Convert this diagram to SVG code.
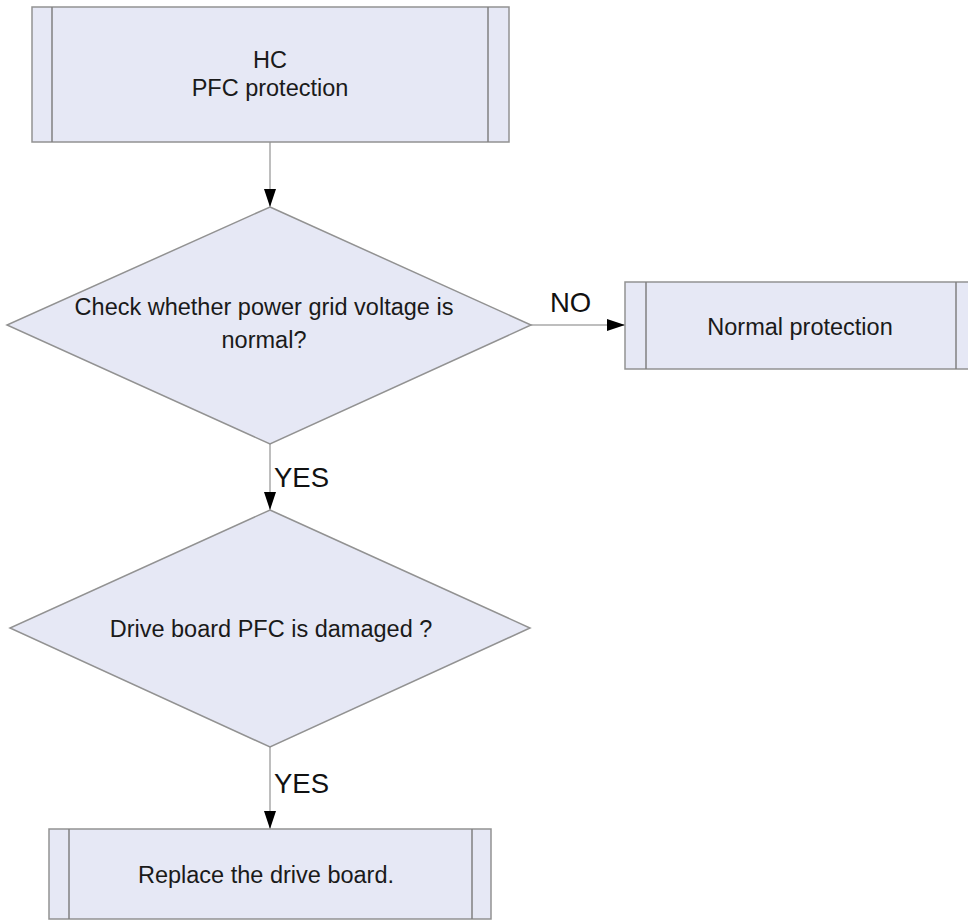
<svg xmlns="http://www.w3.org/2000/svg" width="968" height="920" viewBox="0 0 968 920">
<defs>
<style>
.shape{fill:#e6e8f5;stroke:#929292;stroke-width:1.5}
.inner{stroke:#808080;stroke-width:1.5;fill:none}
.t{font-family:"Liberation Sans",Arial,sans-serif;font-size:23.5px;fill:#1a1a1a;text-anchor:middle}
.lbl{font-family:"Liberation Sans",Arial,sans-serif;font-size:27.5px;fill:#111}
.c{stroke:#a8a8a8;stroke-width:1.5;fill:none}
</style>
<marker id="ah" viewBox="0 0 18 12" refX="18" refY="6" markerWidth="18" markerHeight="12" markerUnits="userSpaceOnUse" orient="auto">
<path d="M0,0 L18,6 L0,12 Z" fill="#000"/>
</marker>
</defs>
<rect width="968" height="920" fill="#fff"/>
<g id="connectors">
<line class="c" x1="270" y1="142" x2="270" y2="207" marker-end="url(#ah)"/>
<line class="c" x1="531" y1="325" x2="625" y2="325" marker-end="url(#ah)"/>
<text class="lbl" x="550" y="312">NO</text>
<line class="c" x1="270" y1="444" x2="270" y2="510" marker-end="url(#ah)"/>
<text class="lbl" x="274" y="487">YES</text>
<line class="c" x1="270" y1="747" x2="270" y2="829" marker-end="url(#ah)"/>
<text class="lbl" x="274" y="793">YES</text>
</g>
<g id="start">
<rect class="shape" x="32" y="7" width="477" height="135"/>
<line class="inner" x1="52" y1="7" x2="52" y2="142"/>
<line class="inner" x1="488" y1="7" x2="488" y2="142"/>
<text class="t" x="270" y="68">HC</text>
<text class="t" x="270" y="96">PFC protection</text>
</g>
<g id="check-voltage">
<polygon class="shape" points="270,207 531,325 270,444 7,325"/>
<text class="t" x="264" y="315">Check whether power grid voltage is</text>
<text class="t" x="264" y="348">normal?</text>
</g>
<g id="normal-protection">
<rect class="shape" x="625" y="282" width="352" height="87"/>
<line class="inner" x1="646" y1="282" x2="646" y2="369"/>
<line class="inner" x1="956" y1="282" x2="956" y2="369"/>
<text class="t" x="800" y="335">Normal protection</text>
</g>
<g id="check-pfc">
<polygon class="shape" points="270,510 530,628 270,747 10,628"/>
<text class="t" x="271" y="637">Drive board PFC is damaged ?</text>
</g>
<g id="replace">
<rect class="shape" x="49" y="829" width="442" height="90"/>
<line class="inner" x1="69" y1="829" x2="69" y2="919"/>
<line class="inner" x1="472" y1="829" x2="472" y2="919"/>
<text class="t" x="266" y="883">Replace the drive board.</text>
</g>
</svg>
